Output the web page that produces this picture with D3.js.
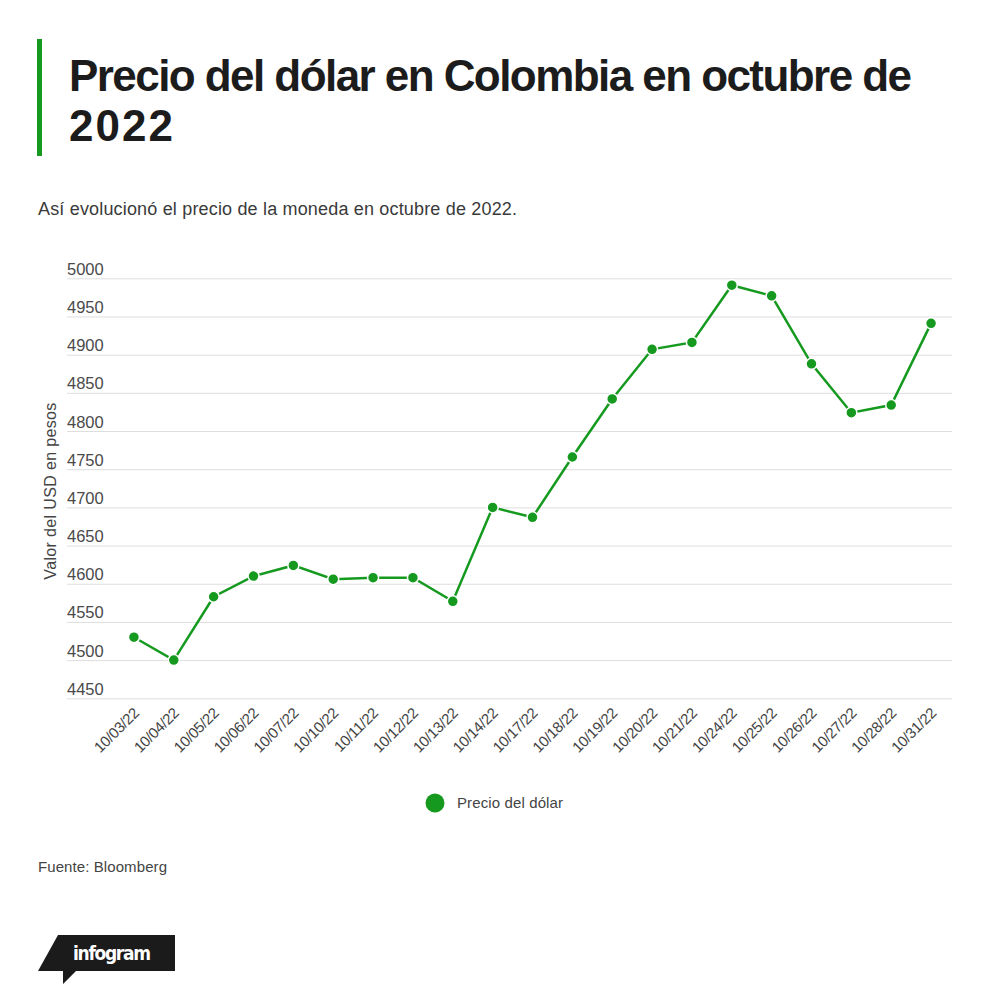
<!DOCTYPE html>
<html>
<head>
<meta charset="utf-8">
<script src="https://cdn.jsdelivr.net/npm/d3@7"></script>
<style>
  body { margin: 0; background: #fff; }
  svg { display: block; font-family: "Liberation Sans", Arial, sans-serif; }
</style>
</head>
<body>
<svg width="1000" height="1003"></svg>
<script>
// data
var dates = ['10/03/22', '10/04/22', '10/05/22', '10/06/22', '10/07/22', '10/10/22', '10/11/22',
             '10/12/22', '10/13/22', '10/14/22', '10/17/22', '10/18/22', '10/19/22', '10/20/22',
             '10/21/22', '10/24/22', '10/25/22', '10/26/22', '10/27/22', '10/28/22', '10/31/22'];
var precio = [4530, 4500, 4583, 4610, 4624, 4606, 4608,
              4608, 4577, 4700, 4687, 4766, 4842, 4907,
              4916, 4991, 4977, 4888, 4824, 4834, 4941];
var yTicks = [4450, 4500, 4550, 4600, 4650, 4700, 4750, 4800, 4850, 4900, 4950, 5000];
var seriesName = 'Precio del dólar';

var green = '#159a1f';
var svg = d3.select('svg');

// fit a text to a width by letter spacing
var fitText = function(sel, w){
  var n = sel.text().length;
  var len = sel.node().getComputedTextLength();
  sel.attr('letter-spacing', ((w - len) / (n - 1)).toFixed(3));
};

// title block
svg.append('rect').attr('x', 37).attr('y', 39).attr('width', 5).attr('height', 117).attr('fill', green);
svg.append('text').attr('x', 69).attr('y', 91).attr('font-size', 44).attr('font-weight', 700)
  .attr('fill', '#1c1c1c').text('Precio del dólar en Colombia en octubre de').call(fitText, 843);
svg.append('text').attr('x', 69).attr('y', 141).attr('font-size', 44).attr('font-weight', 700)
  .attr('fill', '#1c1c1c').text('2022').call(fitText, 104);

svg.append('text').attr('x', 38).attr('y', 215).attr('font-size', 18).attr('fill', '#3a3a3a')
  .text('Así evolucionó el precio de la moneda en octubre de 2022.').call(fitText, 479);

// scales
var x = d3.scaleBand().domain(dates).range([114, 951]);
var y = d3.scaleLinear().domain([4450, 5000]).range([698.3, 278.3]);

// y grid + labels
var yAxis = svg.append('g').attr('transform', 'translate(67,0)')
  .call(d3.axisRight(y).tickValues(yTicks).tickSize(885).tickFormat(d3.format('d')));
yAxis.select('.domain').remove();
yAxis.selectAll('line').attr('stroke', '#dedede');
yAxis.selectAll('text').attr('x', 0).attr('dy', -4).attr('text-anchor', 'start')
  .attr('font-size', 16.5).attr('fill', '#4a4a4a').attr('font-family', null);

// x labels
var xAxis = svg.append('g').attr('transform', 'translate(0,698)')
  .call(d3.axisBottom(x).tickSize(0));
xAxis.select('.domain').remove();
xAxis.selectAll('text')
  .attr('transform', 'translate(6,16) rotate(-45)')
  .attr('y', 0).attr('dy', 0).attr('text-anchor', 'end')
  .attr('font-size', 15).attr('letter-spacing', -0.3).attr('fill', '#444').attr('font-family', null);

// y axis title
svg.append('text').attr('transform', 'translate(56,491) rotate(-90)')
  .attr('text-anchor', 'middle').attr('font-size', 16).attr('fill', '#444')
  .text('Valor del USD en pesos').call(fitText, 177);

// line and points
var cx = function(d, i){ return x(dates[i]) + x.bandwidth() / 2; };
var line = d3.line().x(cx).y(function(d){ return y(d); });

svg.append('path').datum(precio).attr('d', line)
  .attr('fill', 'none').attr('stroke', green).attr('stroke-width', 2.5);

svg.selectAll('circle.pt').data(precio).enter().append('circle')
  .attr('class', 'pt')
  .attr('cx', cx).attr('cy', function(d){ return y(d); })
  .attr('r', 5.5).attr('fill', green).attr('stroke', '#fff').attr('stroke-width', 1.5);

// legend
svg.append('circle').attr('cx', 435).attr('cy', 803).attr('r', 9.5).attr('fill', green);
svg.append('text').attr('x', 457).attr('y', 808).attr('font-size', 15).attr('fill', '#444')
  .text(seriesName).call(fitText, 106);

// source
svg.append('text').attr('x', 38).attr('y', 872).attr('font-size', 15).attr('fill', '#444')
  .text('Fuente: Bloomberg').call(fitText, 129);

// infogram badge
svg.append('path')
  .attr('d', 'M58,935 L175,935 L175,971 L76,971 L63,984 L63,971 L38,971 Z')
  .attr('fill', '#1b1b1b');
svg.append('text').attr('x', 73).attr('y', 960).attr('font-size', 19).attr('font-weight', 700)
  .attr('font-family', '"DejaVu Sans Condensed", "DejaVu Sans", sans-serif')
  .attr('font-stretch', 'condensed')
  .attr('fill', '#fff').text('infogram').call(fitText, 78);
</script>
</body>
</html>
